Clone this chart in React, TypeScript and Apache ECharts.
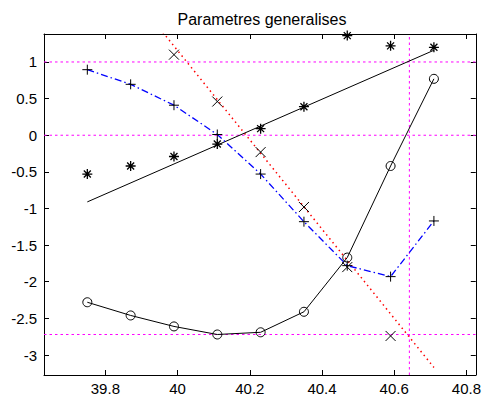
import React, { useEffect, useRef } from "react";
import * as echarts from "echarts";

const title = "Parametres generalises";
const xs = [39.75, 39.87, 39.99, 40.11, 40.23, 40.35, 40.47, 40.59, 40.71];
const circleY = [-2.28, -2.46, -2.61, -2.72, -2.69, -2.41, -1.67, -0.42, 0.77];
const starY = [-0.53, -0.42, -0.29, -0.12, 0.09, 0.39, 1.36, 1.22, 1.2];
const plusY = [0.895, 0.695, 0.41, 0.01, -0.53, -1.18, -1.78, -1.93, -1.17];
const crossX = [39.99, 40.11, 40.23, 40.35, 40.47, 40.59];
const crossY = [1.1, 0.46, -0.23, -0.98, -1.8, -2.74];
const fitX = [39.75, 40.71];
const fitY = [-0.91, 1.16];
const redX = [39.75, 40.71];
const redY = [2.68, -3.17];
const hRefY = [1, 0, -2.72];
const vRefX = [40.642];
const xMin = 39.63;
const xMax = 40.826;
const yMin = -3.273;
const yMax = 1.382;
const xTicks = [39.8, 40, 40.2, 40.4, 40.6, 40.8];
const yTicks = [-3, -2.5, -2, -1.5, -1, -0.5, 0, 0.5, 1];

const FONT = "'Liberation Sans', Arial, Helvetica, sans-serif";
const PLUS = "path://M5,0L5,10M0,5L10,5";
const CROSS = "path://M0,0L10,10M10,0L0,10";
const STAR = "path://M5,0L5,10M0,5L10,5M1.5,1.5L8.5,8.5M8.5,1.5L1.5,8.5";

const zip = (a: number[], b: number[]) => a.map((v, i) => [v, b[i]]);
const fmt = (v: number) => String(parseFloat(v.toFixed(2)));

export default function App() {
  const ref = useRef<HTMLDivElement>(null);
  useEffect(() => {
    const chart = echarts.init(ref.current!, null, { renderer: "svg" });
    const axisCommon = {
      type: "value" as const,
      axisLine: { show: true, onZero: false, lineStyle: { color: "#000", width: 1 } },
      splitLine: { show: false },
    };
    const magenta = { color: "#ff00ff", width: 1, type: [2.5, 3] as any };
    const refSeries: any[] = [];
    hRefY.forEach((y) =>
      refSeries.push({
        type: "line",
        data: [
          [xMin, y],
          [xMax, y],
        ],
        symbol: "none",
        lineStyle: magenta,
        z: 1,
      })
    );
    vRefX.forEach((x) =>
      refSeries.push({
        type: "line",
        data: [
          [x, yMin],
          [x, yMax],
        ],
        symbol: "none",
        lineStyle: magenta,
        z: 1,
      })
    );
    chart.setOption({
      animation: false,
      backgroundColor: "#fff",
      textStyle: { fontFamily: FONT },
      grid: { left: 44, top: 34, right: 8, bottom: 21 },
      graphic: [
        {
          type: "text",
          x: 262,
          y: 19,
          style: {
            text: title,
            font: `16px ${FONT}`,
            fill: "#000",
            textAlign: "center",
            textVerticalAlign: "middle",
          },
        },
      ],
      xAxis: [
        {
          ...axisCommon,
          position: "bottom",
          min: xMin,
          max: xMax,
          axisTick: { show: true, inside: true, length: 5, customValues: xTicks, lineStyle: { color: "#000" } },
          axisLabel: {
            show: true,
            customValues: xTicks,
            formatter: (v: number) => fmt(v),
            color: "#000",
            fontSize: 15,
            fontFamily: FONT,
            margin: 6,
          },
        },
        {
          ...axisCommon,
          position: "top",
          min: xMin,
          max: xMax,
          axisTick: { show: true, inside: true, length: 5, customValues: xTicks, lineStyle: { color: "#000" } },
          axisLabel: { show: false },
        },
      ],
      yAxis: [
        {
          ...axisCommon,
          position: "left",
          min: yMin,
          max: yMax,
          axisTick: { show: true, inside: true, length: 5, customValues: yTicks, lineStyle: { color: "#000" } },
          axisLabel: {
            show: true,
            customValues: yTicks,
            formatter: (v: number) => fmt(v),
            color: "#000",
            fontSize: 15,
            fontFamily: FONT,
            margin: 7,
          },
        },
        {
          ...axisCommon,
          position: "right",
          min: yMin,
          max: yMax,
          axisTick: { show: true, inside: true, length: 5, customValues: yTicks, lineStyle: { color: "#000" } },
          axisLabel: { show: false },
        },
      ],
      series: [
        ...refSeries,
        {
          type: "line",
          data: zip(redX, redY),
          symbol: "none",
          lineStyle: { color: "#ff0000", width: 1.5, type: [1.5, 3.5] },
          z: 2,
        },
        {
          type: "line",
          data: zip(fitX, fitY),
          symbol: "none",
          lineStyle: { color: "#000", width: 1 },
          z: 3,
        },
        {
          type: "line",
          data: zip(xs, plusY),
          symbol: PLUS,
          symbolSize: 10,
          lineStyle: { color: "#0000ff", width: 1.3, type: [7, 3, 1.5, 3] },
          itemStyle: { color: "none", borderColor: "#000", borderWidth: 1 },
          z: 4,
        },
        {
          type: "line",
          data: zip(xs, circleY),
          symbol: "circle",
          symbolSize: 9,
          lineStyle: { color: "#000", width: 1 },
          itemStyle: { color: "rgba(255,255,255,0)", borderColor: "#000", borderWidth: 1 },
          z: 5,
        },
        {
          type: "scatter",
          data: zip(xs, starY),
          symbol: STAR,
          symbolSize: 10,
          itemStyle: { color: "none", borderColor: "#000", borderWidth: 1.3, opacity: 1 },
          z: 6,
        },
        {
          type: "scatter",
          data: zip(crossX, crossY),
          symbol: CROSS,
          symbolSize: 10,
          itemStyle: { color: "none", borderColor: "#000", borderWidth: 1, opacity: 1 },
          z: 6,
        },
      ],
    });
    return () => chart.dispose();
  }, []);
  return (
    <div
      ref={ref}
      style={{ position: "absolute", left: 0, top: 0, width: 484, height: 396 }}
    />
  );
}
